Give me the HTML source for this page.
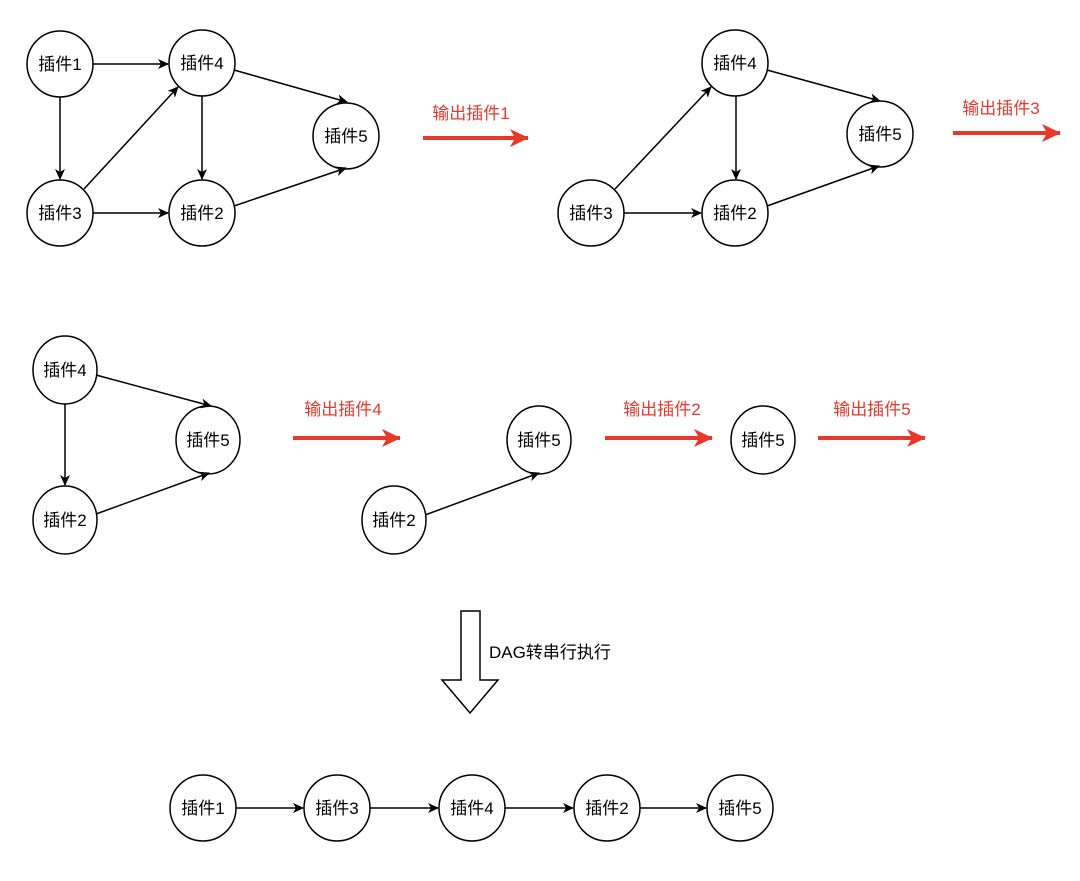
<!DOCTYPE html>
<html><head><meta charset="utf-8"><style>
html,body{margin:0;padding:0;background:#fff;}
svg{display:block;}
text{font-family:"Liberation Sans","Noto Sans CJK SC",sans-serif;}
</style></head><body>
<svg width="1080" height="881" viewBox="0 0 1080 881" xmlns="http://www.w3.org/2000/svg">
<defs>
<marker id="a" markerWidth="12" markerHeight="12" refX="10" refY="5" orient="auto" markerUnits="userSpaceOnUse">
<path d="M0,0 L11,5 L0,10 L3,5 z" fill="#000"/>
</marker>
<marker id="r" markerWidth="20" markerHeight="20" refX="18" refY="9" orient="auto" markerUnits="userSpaceOnUse">
<path d="M0,0 L19,9 L0,18 L5,9 z" fill="#e8382b"/>
</marker>
</defs>
<g fill="#fff" stroke="#000" stroke-width="1.5">
<circle cx="60" cy="64" r="33"/><circle cx="202" cy="63" r="33"/><circle cx="346" cy="136" r="33"/>
<circle cx="60" cy="213" r="33"/><circle cx="202" cy="213" r="33"/>
<circle cx="735" cy="63" r="33"/><circle cx="880" cy="134" r="33"/><circle cx="591" cy="213" r="33"/><circle cx="735" cy="213" r="33"/>
<ellipse cx="65" cy="370" rx="32" ry="34"/><ellipse cx="208" cy="440" rx="32" ry="34"/><ellipse cx="65" cy="520" rx="32" ry="34"/>
<ellipse cx="539" cy="440" rx="32" ry="34"/><ellipse cx="394" cy="520" rx="32" ry="34"/><ellipse cx="763" cy="440" rx="32" ry="34"/>
<circle cx="203" cy="808" r="33"/><circle cx="337" cy="808" r="33"/><circle cx="472" cy="808" r="33"/><circle cx="607" cy="808" r="33"/><circle cx="740" cy="808" r="33"/>
</g>
<g stroke="#000" stroke-width="1.5" fill="none" marker-end="url(#a)">
<line x1="93" y1="64" x2="168" y2="64"/>
<line x1="60" y1="97" x2="60" y2="179"/>
<line x1="84" y1="189" x2="178" y2="87"/>
<line x1="93" y1="213" x2="168" y2="213"/>
<line x1="202" y1="96" x2="202" y2="179"/>
<line x1="234" y1="70" x2="347" y2="102"/>
<line x1="234" y1="206" x2="346" y2="168"/>
<line x1="615" y1="189" x2="711" y2="87"/>
<line x1="624" y1="213" x2="701" y2="213"/>
<line x1="736" y1="96" x2="736" y2="179"/>
<line x1="767" y1="70" x2="880" y2="101"/>
<line x1="767" y1="206" x2="879" y2="166"/>
<line x1="65" y1="404" x2="65" y2="485"/>
<line x1="96" y1="375" x2="211" y2="406"/>
<line x1="96" y1="514" x2="209" y2="473"/>
<line x1="425" y1="515" x2="539" y2="473"/>
<line x1="236" y1="808" x2="303" y2="808"/>
<line x1="370" y1="808" x2="438" y2="808"/>
<line x1="505" y1="808" x2="573" y2="808"/>
<line x1="640" y1="808" x2="706" y2="808"/>
</g>
<g stroke="#e8382b" stroke-width="4" fill="none" marker-end="url(#r)">
<line x1="423" y1="138" x2="528" y2="138"/>
<line x1="953" y1="133" x2="1060" y2="133"/>
<line x1="293" y1="438" x2="400" y2="438"/>
<line x1="605" y1="438" x2="712" y2="438"/>
<line x1="818" y1="438" x2="925" y2="438"/>
</g>
<g fill="#e8382b" font-size="17" text-anchor="middle">
<text x="471" y="119">输出插件1</text>
<text x="1001" y="114">输出插件3</text>
<text x="343" y="415">输出插件4</text>
<text x="662" y="415">输出插件2</text>
<text x="872" y="415">输出插件5</text>
</g>
<g fill="#000" font-size="17" text-anchor="middle">
<text x="60" y="70">插件1</text><text x="202" y="69">插件4</text><text x="346" y="142">插件5</text><text x="60" y="219">插件3</text><text x="202" y="219">插件2</text>
<text x="735" y="69">插件4</text><text x="880" y="140">插件5</text><text x="591" y="219">插件3</text><text x="735" y="219">插件2</text>
<text x="65" y="376">插件4</text><text x="208" y="446">插件5</text><text x="65" y="526">插件2</text>
<text x="539" y="446">插件5</text><text x="394" y="526">插件2</text><text x="763" y="446">插件5</text>
<text x="203" y="814">插件1</text><text x="337" y="814">插件3</text><text x="472" y="814">插件4</text><text x="607" y="814">插件2</text><text x="740" y="814">插件5</text>
</g>
<path d="M461,611 L480,611 L480,680 L498,680 L470,713 L442,680 L461,680 Z" fill="#fff" stroke="#000" stroke-width="1.5"/>
<text x="489" y="658" font-size="17" fill="#000">DAG转串行执行</text>
</svg>
</body></html>
